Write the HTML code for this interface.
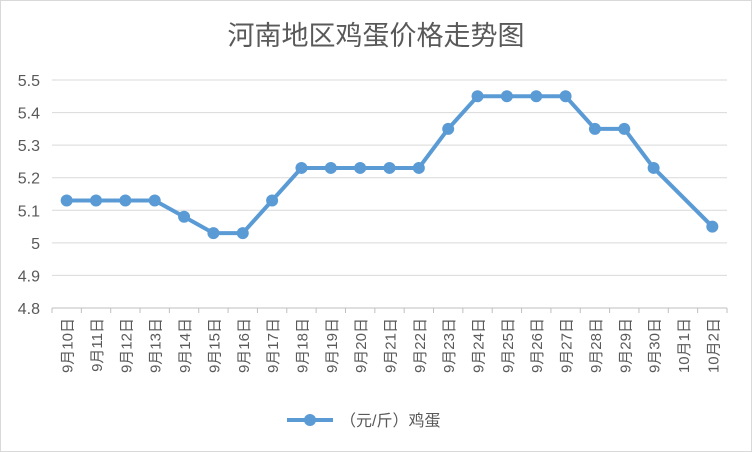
<!DOCTYPE html>
<html><head><meta charset="utf-8"><style>
body{margin:0;background:#fff}
svg{display:block;font-family:"Liberation Sans","Noto Sans CJK SC",sans-serif}
</style></head><body>
<svg width="752" height="452">
<rect x="0.5" y="0.5" width="751" height="451" fill="#fff" stroke="#d9d9d9"/>
<text x="376" y="45" text-anchor="middle" font-size="27" fill="#595959">河南地区鸡蛋价格走势图</text>
<g id="grid"></g><g id="yt"></g><g id="xt"></g><g id="series"></g>
<g>
<line x1="287" y1="420" x2="333" y2="420" stroke="#5b9bd5" stroke-width="4"/>
<circle cx="310" cy="420" r="6" fill="#5b9bd5"/>
<text x="340" y="426" font-size="16" fill="#595959">（元/斤）鸡蛋</text>
</g>
</svg>
<script>
const categories=["9月10日","9月11日","9月12日","9月13日","9月14日","9月15日","9月16日","9月17日","9月18日","9月19日","9月20日","9月21日","9月22日","9月23日","9月24日","9月25日","9月26日","9月27日","9月28日","9月29日","9月30日","10月1日","10月2日"];
const values=[5.13,5.13,5.13,5.13,5.08,5.03,5.03,5.13,5.23,5.23,5.23,5.23,5.23,5.35,5.45,5.45,5.45,5.45,5.35,5.35,5.23,null,5.05];
const yTicks=[4.8,4.9,5,5.1,5.2,5.3,5.4,5.5];
const yTickLabels=["4.8","4.9","5","5.1","5.2","5.3","5.4","5.5"];
const NS="http://www.w3.org/2000/svg";
const L=52,R=727,T=80,B=308,ymin=4.8,ymax=5.5;
const bw=(R-L)/categories.length;
const x=i=>L+bw*(i+0.5);
const y=v=>B-(v-ymin)/(ymax-ymin)*(B-T);
function mk(t,a,p){const e=document.createElementNS(NS,t);for(const k in a)e.setAttribute(k,a[k]);p.appendChild(e);return e;}
const grid=document.getElementById('grid'),yt=document.getElementById('yt'),xt=document.getElementById('xt'),ser=document.getElementById('series');
yTicks.forEach((v,i)=>{
 const g=mk('line',{x1:L,x2:R,y1:y(v),y2:y(v),stroke:v===ymin?'#bfbfbf':'#d9d9d9','stroke-width':1},grid);
 
 
 const t=mk('text',{x:40,y:y(v)+6,'text-anchor':'end','font-size':16,fill:'#595959'},yt);
 t.textContent=yTickLabels[i];
 
 
});
for(let i=0;i<=categories.length;i++){
 const tk=mk('line',{x1:L+bw*i,x2:L+bw*i,y1:B,y2:B+5,stroke:'#bfbfbf'},xt);
 
 
}
categories.forEach((c,i)=>{
 const t=mk('text',{x:0,y:0,'text-anchor':'end','font-size':15,fill:'#595959',transform:`translate(${x(i)+6},318) rotate(-90)`},xt);
 t.textContent=c;
 
 
});
const pts=[];values.forEach((v,i)=>{if(v!=null)pts.push([x(i),y(v)]);});
const pl=mk('polyline',{points:pts.map(p=>p.join(',')).join(' '),fill:'none',stroke:'#5b9bd5','stroke-width':4,'stroke-linejoin':'round'},ser);


pts.forEach(p=>{
 const c=mk('circle',{cx:p[0],cy:p[1],r:6,fill:'#5b9bd5'},ser);
 
 
});
</script>
</body></html>
